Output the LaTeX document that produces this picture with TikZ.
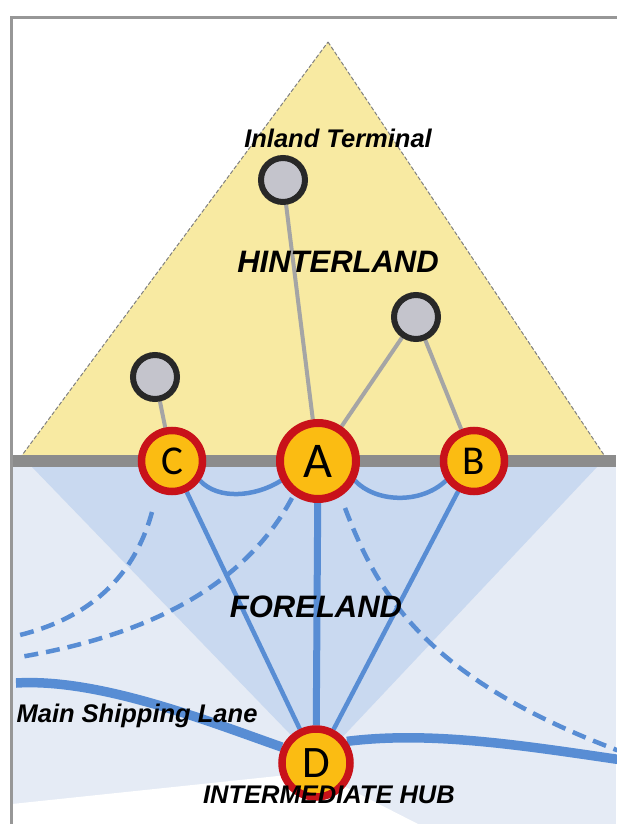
\documentclass[tikz,border=0pt]{standalone}
\usepackage{fontspec}
\setmainfont{Liberation Sans}
\newfontfamily\letterfont{Carlito}
\definecolor{portred}{RGB}{200,18,26}
\definecolor{portyellow}{RGB}{251,188,18}
\definecolor{termfill}{RGB}{196,196,204}
\definecolor{termring}{RGB}{40,40,40}
\definecolor{landline}{RGB}{165,165,165}
\definecolor{sealine}{RGB}{88,141,212}
\definecolor{hinter}{RGB}{248,234,162}
\definecolor{bandgray}{RGB}{140,140,140}
\definecolor{seapale}{RGB}{229,235,245}
\definecolor{seacone}{RGB}{201,217,240}
\pgfdeclarelayer{bg}
\pgfdeclarelayer{links}
\pgfsetlayers{bg,links,main}
\tikzset{
  port/.style={circle, draw=portred, fill=portyellow, inner sep=0pt,
    font=\letterfont\fontsize{41}{41}\selectfont},
  terminal/.style={circle, draw=termring, fill=termfill, line width=6pt,
    minimum size=44pt, inner sep=0pt},
  landlink/.style={draw=landline, line width=4pt},
  sealink/.style={draw=sealine, line width=4.5pt},
  seadash/.style={draw=sealine, line width=4.5pt, dash pattern=on 14pt off 8pt},
  lane/.style={draw=sealine, line width=9.5pt},
  region/.style={font=\bfseries\itshape\fontsize{31}{31}\selectfont},
  caption/.style={font=\bfseries\itshape\fontsize{25.5}{25.5}\selectfont}
}
\begin{document}
\begin{tikzpicture}[x=1pt,y=-1pt]
\useasboundingbox (0,0) rectangle (616,824);
\begin{scope}
\clip (0,0) rectangle (616,824);

% ports and terminals
\node[port, line width=8pt, minimum size=76pt, font=\letterfont\fontsize{50}{50}\selectfont] (A) at (318,461) {A};
\node[port, line width=7.5pt, minimum size=61pt] (C) at (172,461) {C};
\node[port, line width=7.5pt, minimum size=61pt] (B) at (474,461) {B};
\node[port, line width=7.5pt, minimum size=68pt, font=\letterfont\fontsize{45}{45}\selectfont] (D) at (316,763) {D};
\node[terminal] (t1) at (283,180) {};
\node[terminal] (t2) at (416,317) {};
\node[terminal] (t3) at (155,377) {};

% free ends of the sea routes
\coordinate (d1s) at (152,512);
\coordinate (d1e) at (20,635);
\coordinate (d2s) at (292,498);
\coordinate (d2e) at (20,657);
\coordinate (d3s) at (345,508);
\coordinate (d3e) at (622,752);
\coordinate (lanew) at (16,683);
\coordinate (lanee) at (622,760);

\begin{pgfonlayer}{bg}
  % frame and land/sea areas
  \fill[white] (0,0) rectangle (616,824);
  \fill[seapale] (12,461) rectangle (616,824);
  \fill[seacone] (32,467) -- (597,467) -- (318,763) -- cycle;
  \fill[white] (12,804) -- (316,772) -- (418,824) -- (12,824) -- cycle;
  \filldraw[fill=hinter, draw=gray, line width=1pt, dash pattern=on 4pt off 2pt]
    (328,42) -- (606,458) -- (20,458) -- cycle;
  \fill[bandgray] (12,455) rectangle (616,467);
  \draw[bandgray!90, line width=3pt] (11,18) rectangle (660,860);
\end{pgfonlayer}

\begin{pgfonlayer}{links}
  % hinterland links
  \draw[landlink] (t1) -- (A);
  \draw[landlink] (t2) -- (A);
  \draw[landlink] (t2) -- (B);
  \draw[landlink] (t3) -- (C);
  % foreland links
  \draw[sealink] (C) -- (D);
  \draw[sealink] (B) -- (D);
  \draw[sealink, line width=7pt] (A) -- (D);
  \draw[sealink] (C.-35) .. controls (218,500) and (255,497) .. (A.-152);
  \draw[sealink] (A.-28) .. controls (375,502) and (420,505) .. (B.-145);
  \draw[seadash] (d1s) .. controls (132,585) and (80,620) .. (d1e);
  \draw[seadash] (d2s) .. controls (245,585) and (150,635) .. (d2e);
  \draw[seadash] (d3s) .. controls (380,600) and (430,680) .. (d3e);
  % main shipping lane through the hub
  \draw[lane] (lanew) .. controls (100,678) and (210,722) .. (D.155);
  \draw[lane] (D.35) .. controls (430,731) and (520,745) .. (lanee);
\end{pgfonlayer}

% labels
\node[caption] (lbl-inland) at (338,138) {Inland Terminal};
\node[region] (lbl-hinter) at (338,262) {HINTERLAND};
\node[region] (lbl-fore) at (316,607) {FORELAND};
\node[caption] (lbl-lane) at (137,716) {Main Shipping Lane};
\node[caption] (lbl-hub) at (329,795) {INTERMEDIATE HUB};
\end{scope}
\end{tikzpicture}
\end{document}
